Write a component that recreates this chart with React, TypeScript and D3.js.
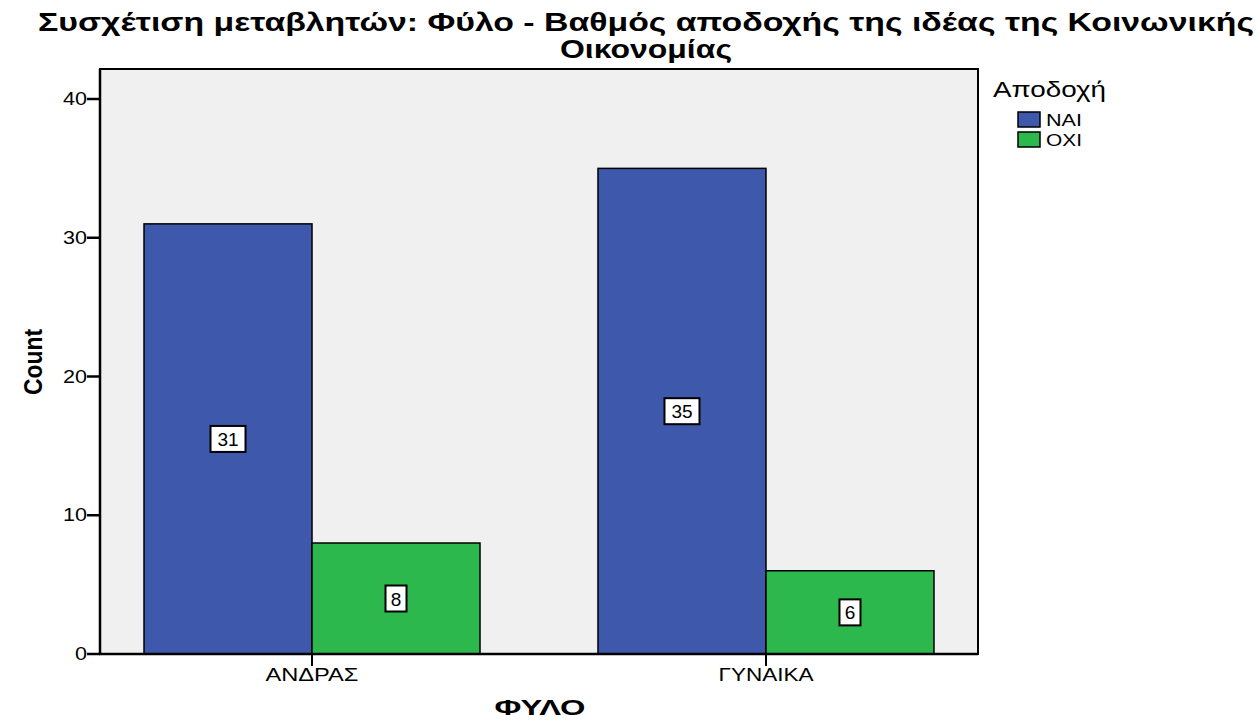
import React from "react";
import * as d3 from "d3";

const categories = ["ΑΝΔΡΑΣ", "ΓΥΝΑΙΚΑ"];
const seriesNames = ["ΝΑΙ", "ΟΧΙ"];
const naiValues = [31, 35];
const oxiValues = [8, 6];
const yTicks = [0, 10, 20, 30, 40];
const colors = ["#3e58ac", "#2db84d"];

const W = 1260, H = 720;
const left = 100, right = 978, top = 69, bottom = 654;

export default function App() {
  const x = d3.scalePoint<string>().domain(categories).range([left, right]).padding(0.467);
  const y = d3.scaleLinear().domain([0, 40]).range([bottom, 99]);
  const barW = 168;
  const series = [naiValues, oxiValues];
  const narrow = "'Liberation Sans Narrow', 'Arial Narrow', 'Liberation Sans', Arial, sans-serif";
  const sans = "'Liberation Sans', Arial, sans-serif";
  return (
    <svg width={W} height={H} style={{ position: "absolute", left: 0, top: 0, background: "#fff" }}>
      <text x={646} y={31} textAnchor="middle" fontFamily={narrow} fontWeight="bold" fontSize={25}
        textLength={1216} lengthAdjust="spacingAndGlyphs">
        Συσχέτιση μεταβλητών: Φύλο - Βαθμός αποδοχής της ιδέας της Κοινωνικής
      </text>
      <text x={646} y={58} textAnchor="middle" fontFamily={narrow} fontWeight="bold" fontSize={25}
        textLength={172} lengthAdjust="spacingAndGlyphs">
        Οικονομίας
      </text>
      <rect x={left} y={top} width={right - left} height={bottom - top} fill="#f0f0f0" stroke="#000" strokeWidth={2} />
      {categories.map((c, i) =>
        series.map((vals, s) => {
          const cx = x(c)!;
          const x0 = cx - barW + s * barW;
          const v = vals[i];
          return (
            <rect key={c + s} x={x0} y={y(v)} width={barW} height={bottom - y(v)}
              fill={colors[s]} stroke="#000" strokeWidth={1.5} />
          );
        })
      )}
      {categories.map((c, i) =>
        series.map((vals, s) => {
          const cx = x(c)! - barW / 2 + s * barW;
          const v = vals[i];
          const cy = y(v / 2);
          const label = String(v);
          const bw = label.length > 1 ? 35 : 21;
          return (
            <g key={"l" + c + s}>
              <rect x={cx - bw / 2} y={cy - 13} width={bw} height={26} fill="#fff" stroke="#000" strokeWidth={2} />
              <text x={cx} y={cy + 7} textAnchor="middle" fontFamily={sans} fontSize={19}>{label}</text>
            </g>
          );
        })
      )}
      <line x1={left} y1={top} x2={left} y2={bottom + 1} stroke="#000" strokeWidth={2.5} />
      <line x1={left - 1} y1={bottom} x2={right} y2={bottom} stroke="#000" strokeWidth={2.5} />
      {yTicks.map(t => (
        <g key={t}>
          <line x1={left - 13} x2={left} y1={y(t)} y2={y(t)} stroke="#000" strokeWidth={2.5} />
          <text x={left - 13} y={y(t) + 6} textAnchor="end" fontFamily={sans} fontSize={18}
            textLength={String(t).length * 12} lengthAdjust="spacingAndGlyphs">{t}</text>
        </g>
      ))}
      {categories.map((c, i) => (
        <g key={"t" + c}>
          <line x1={x(c)!} x2={x(c)!} y1={bottom} y2={bottom + 12} stroke="#000" strokeWidth={2} />
          <text x={x(c)!} y={681} textAnchor="middle" fontFamily={sans} fontSize={18}
            textLength={i === 0 ? 93 : 95} lengthAdjust="spacingAndGlyphs">{c}</text>
        </g>
      ))}
      <text x={540} y={715} textAnchor="middle" fontFamily={sans} fontWeight="bold" fontSize={22}
        textLength={91} lengthAdjust="spacingAndGlyphs">ΦΥΛΟ</text>
      <text transform="translate(42,362) rotate(-90)" textAnchor="middle" fontFamily={narrow} fontWeight="bold" fontSize={25}
        textLength={66} lengthAdjust="spacingAndGlyphs">Count</text>
      <text x={993} y={97} fontFamily={sans} fontSize={22}
        textLength={113} lengthAdjust="spacingAndGlyphs">Αποδοχή</text>
      {seriesNames.map((n, i) => (
        <g key={n}>
          <rect x={1018} y={112 + i * 20} width={22} height={15} fill={colors[i]} stroke="#000" strokeWidth={1.5} />
          <text x={1046} y={126 + i * 20} fontFamily={sans} fontSize={17}
            textLength={36} lengthAdjust="spacingAndGlyphs">{n}</text>
        </g>
      ))}
    </svg>
  );
}
